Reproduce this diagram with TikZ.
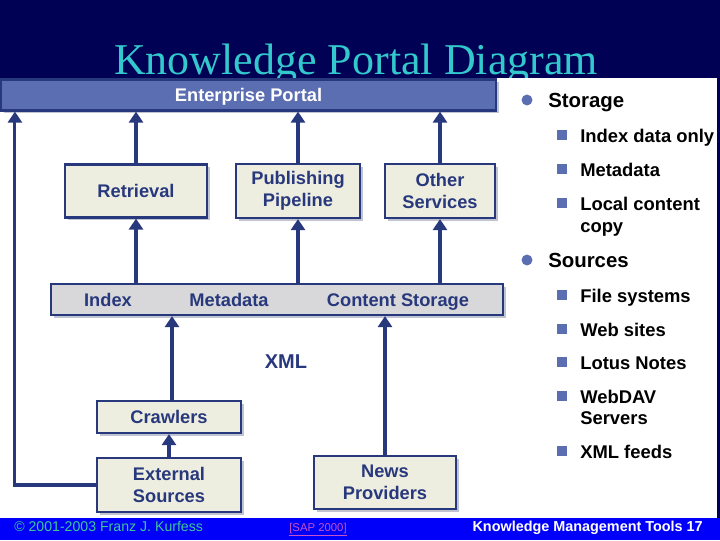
\documentclass[tikz,border=0pt]{standalone}
\usepackage{fontspec}
\setmainfont{Liberation Sans}
\newfontfamily\titlefont{Liberation Serif}
\usetikzlibrary{arrows.meta, positioning, shadows}

\definecolor{navybg}{RGB}{0,0,85}
\definecolor{footblue}{RGB}{0,0,250}
\definecolor{titlecyan}{RGB}{51,200,204}
\definecolor{linenavy}{RGB}{40,56,124}
\definecolor{portalfill}{RGB}{92,110,178}
\definecolor{boxfill}{RGB}{238,238,224}
\definecolor{barfill}{RGB}{216,216,218}
\definecolor{shadowgray}{RGB}{192,196,210}
\definecolor{bulletblue}{RGB}{92,110,178}
\definecolor{footgreen}{RGB}{60,200,150}
\definecolor{sapmagenta}{RGB}{200,80,200}

\begin{document}
\begin{tikzpicture}[
    x=0.75pt, y=-0.75pt,
    diabox/.style={rectangle, draw=linenavy, line width=1.6pt, fill=boxfill, text=linenavy, align=center, inner sep=0pt, font=\bfseries\fontsize{13.7}{16.5}\selectfont, drop shadow={shadow xshift=2.2pt, shadow yshift=-2.2pt, fill=shadowgray, opacity=1}},
    barbox/.style={diabox, fill=barfill},
    portalbox/.style={diabox, fill=portalfill, text=white},
    barlabel/.style={anchor=base, text=linenavy, inner sep=0pt, font=\bfseries\fontsize{13.7}{16.5}\selectfont},
    arrow/.style={-{Triangle[length=8.3pt,width=10.5pt]}, line width=2.3pt, draw=linenavy},
    lvlone/.style={anchor=base west, inner sep=0pt, font=\bfseries\fontsize{15.3}{18}\selectfont},
    lvltwo/.style={anchor=base west, inner sep=0pt, font=\bfseries\fontsize{13.8}{16}\selectfont}
  ]
    \useasboundingbox (0,0) rectangle (720,540);

    % Slide background and title
    \fill[navybg] (0,0) rectangle (720,540);
    \node[anchor=base, inner sep=0pt, text=titlecyan, font=\titlefont\fontsize{33}{40}\selectfont] (title) at (356,74) {Knowledge Portal Diagram};
    \fill[white] (0,78) rectangle (717,518);
    \fill[footblue] (0,518) rectangle (720,540);

    % Portal and storage bars
    \node[portalbox, minimum width=371.25pt, minimum height=23.25pt, text depth=0pt] (portal) at (248.5,95) {Enterprise Portal};
    \node[barbox, minimum width=339pt, minimum height=23.25pt] (store) at (277,299.5) {};
    \node[barlabel] (idx) at (108,306) {Index};
    \node[barlabel] (meta) at (229,306) {Metadata};
    \node[barlabel] (content) at (398,306) {Content Storage};

    % Services
    \node[diabox, minimum width=106.5pt, minimum height=39.75pt] (retr) at (136,191) {Retrieval};
    \node[diabox, minimum width=93pt, minimum height=40.5pt] (pub) at (298,191) {Publishing\\Pipeline};
    \node[diabox, minimum width=82.5pt, minimum height=40.5pt] (other) at (440,191) {Other\\Services};

    % Sources
    \node[diabox, minimum width=108pt, minimum height=24pt] (crawl) at (169,417) {Crawlers};
    \node[diabox, minimum width=108pt, minimum height=40.5pt] (ext) at (169,485) {External\\Sources};
    \node[diabox, minimum width=106.5pt, minimum height=39.75pt] (news) at (385,482.5) {News\\Providers};
    \node[barlabel, font=\bfseries\fontsize{15}{18}\selectfont] (xml) at (286,368) {XML};

    % Arrows
    \draw[arrow] (retr.north) -- (retr.north |- portal.south);
    \draw[arrow] (pub.north) -- (pub.north |- portal.south);
    \draw[arrow] (other.north) -- (other.north |- portal.south);
    \draw[arrow] (retr.south |- store.north) -- (retr.south);
    \draw[arrow] (pub.south |- store.north) -- (pub.south);
    \draw[arrow] (other.south |- store.north) -- (other.south);
    \draw[arrow] ([xshift=2.25pt]crawl.north) -- ([xshift=2.25pt]crawl.north |- store.south);
    \draw[arrow] (ext.north) -- (crawl.south);
    \draw[arrow] (news.north) -- (news.north |- store.south);
    \draw[arrow] (ext.west) -| ([xshift=11.25pt]portal.south west);

    % Bullet list
    \foreach \y/\t [count=\i] in {107/Storage, 267/Sources} {
      \fill[bulletblue] (527,{\y-7}) circle (4.1pt);
      \node[lvlone] (head\i) at (548,\y) {\t};
    }
    \foreach \y/\t [count=\i] in {142/Index data only, 176/Metadata, 210/Local content, 302/File systems, 336/Web sites, 369/Lotus Notes, 403/WebDAV, 458/XML feeds} {
      \fill[bulletblue] (557,{\y-12}) rectangle (567,{\y-2});
      \node[lvltwo] (item\i) at (580,\y) {\t};
    }
    \node[lvltwo] (copy) at (580,232) {copy};
    \node[lvltwo] (servers) at (580,424) {Servers};

    % Footer
    \node[anchor=base west, inner sep=0pt, text=footgreen, font=\fontsize{10.6}{12}\selectfont] (copyr) at (14,531) {\textcopyright{} 2001-2003 Franz J. Kurfess};
    \node[anchor=base, inner sep=0pt, text=sapmagenta, font=\fontsize{8.5}{10}\selectfont] (sap) at (318,531) {\underline{[SAP 2000]}};
    \node[anchor=base east, inner sep=0pt, text=white, font=\bfseries\fontsize{10.8}{12}\selectfont] (foot) at (703,531) {Knowledge Management Tools 17};
  \end{tikzpicture}
\end{document}
